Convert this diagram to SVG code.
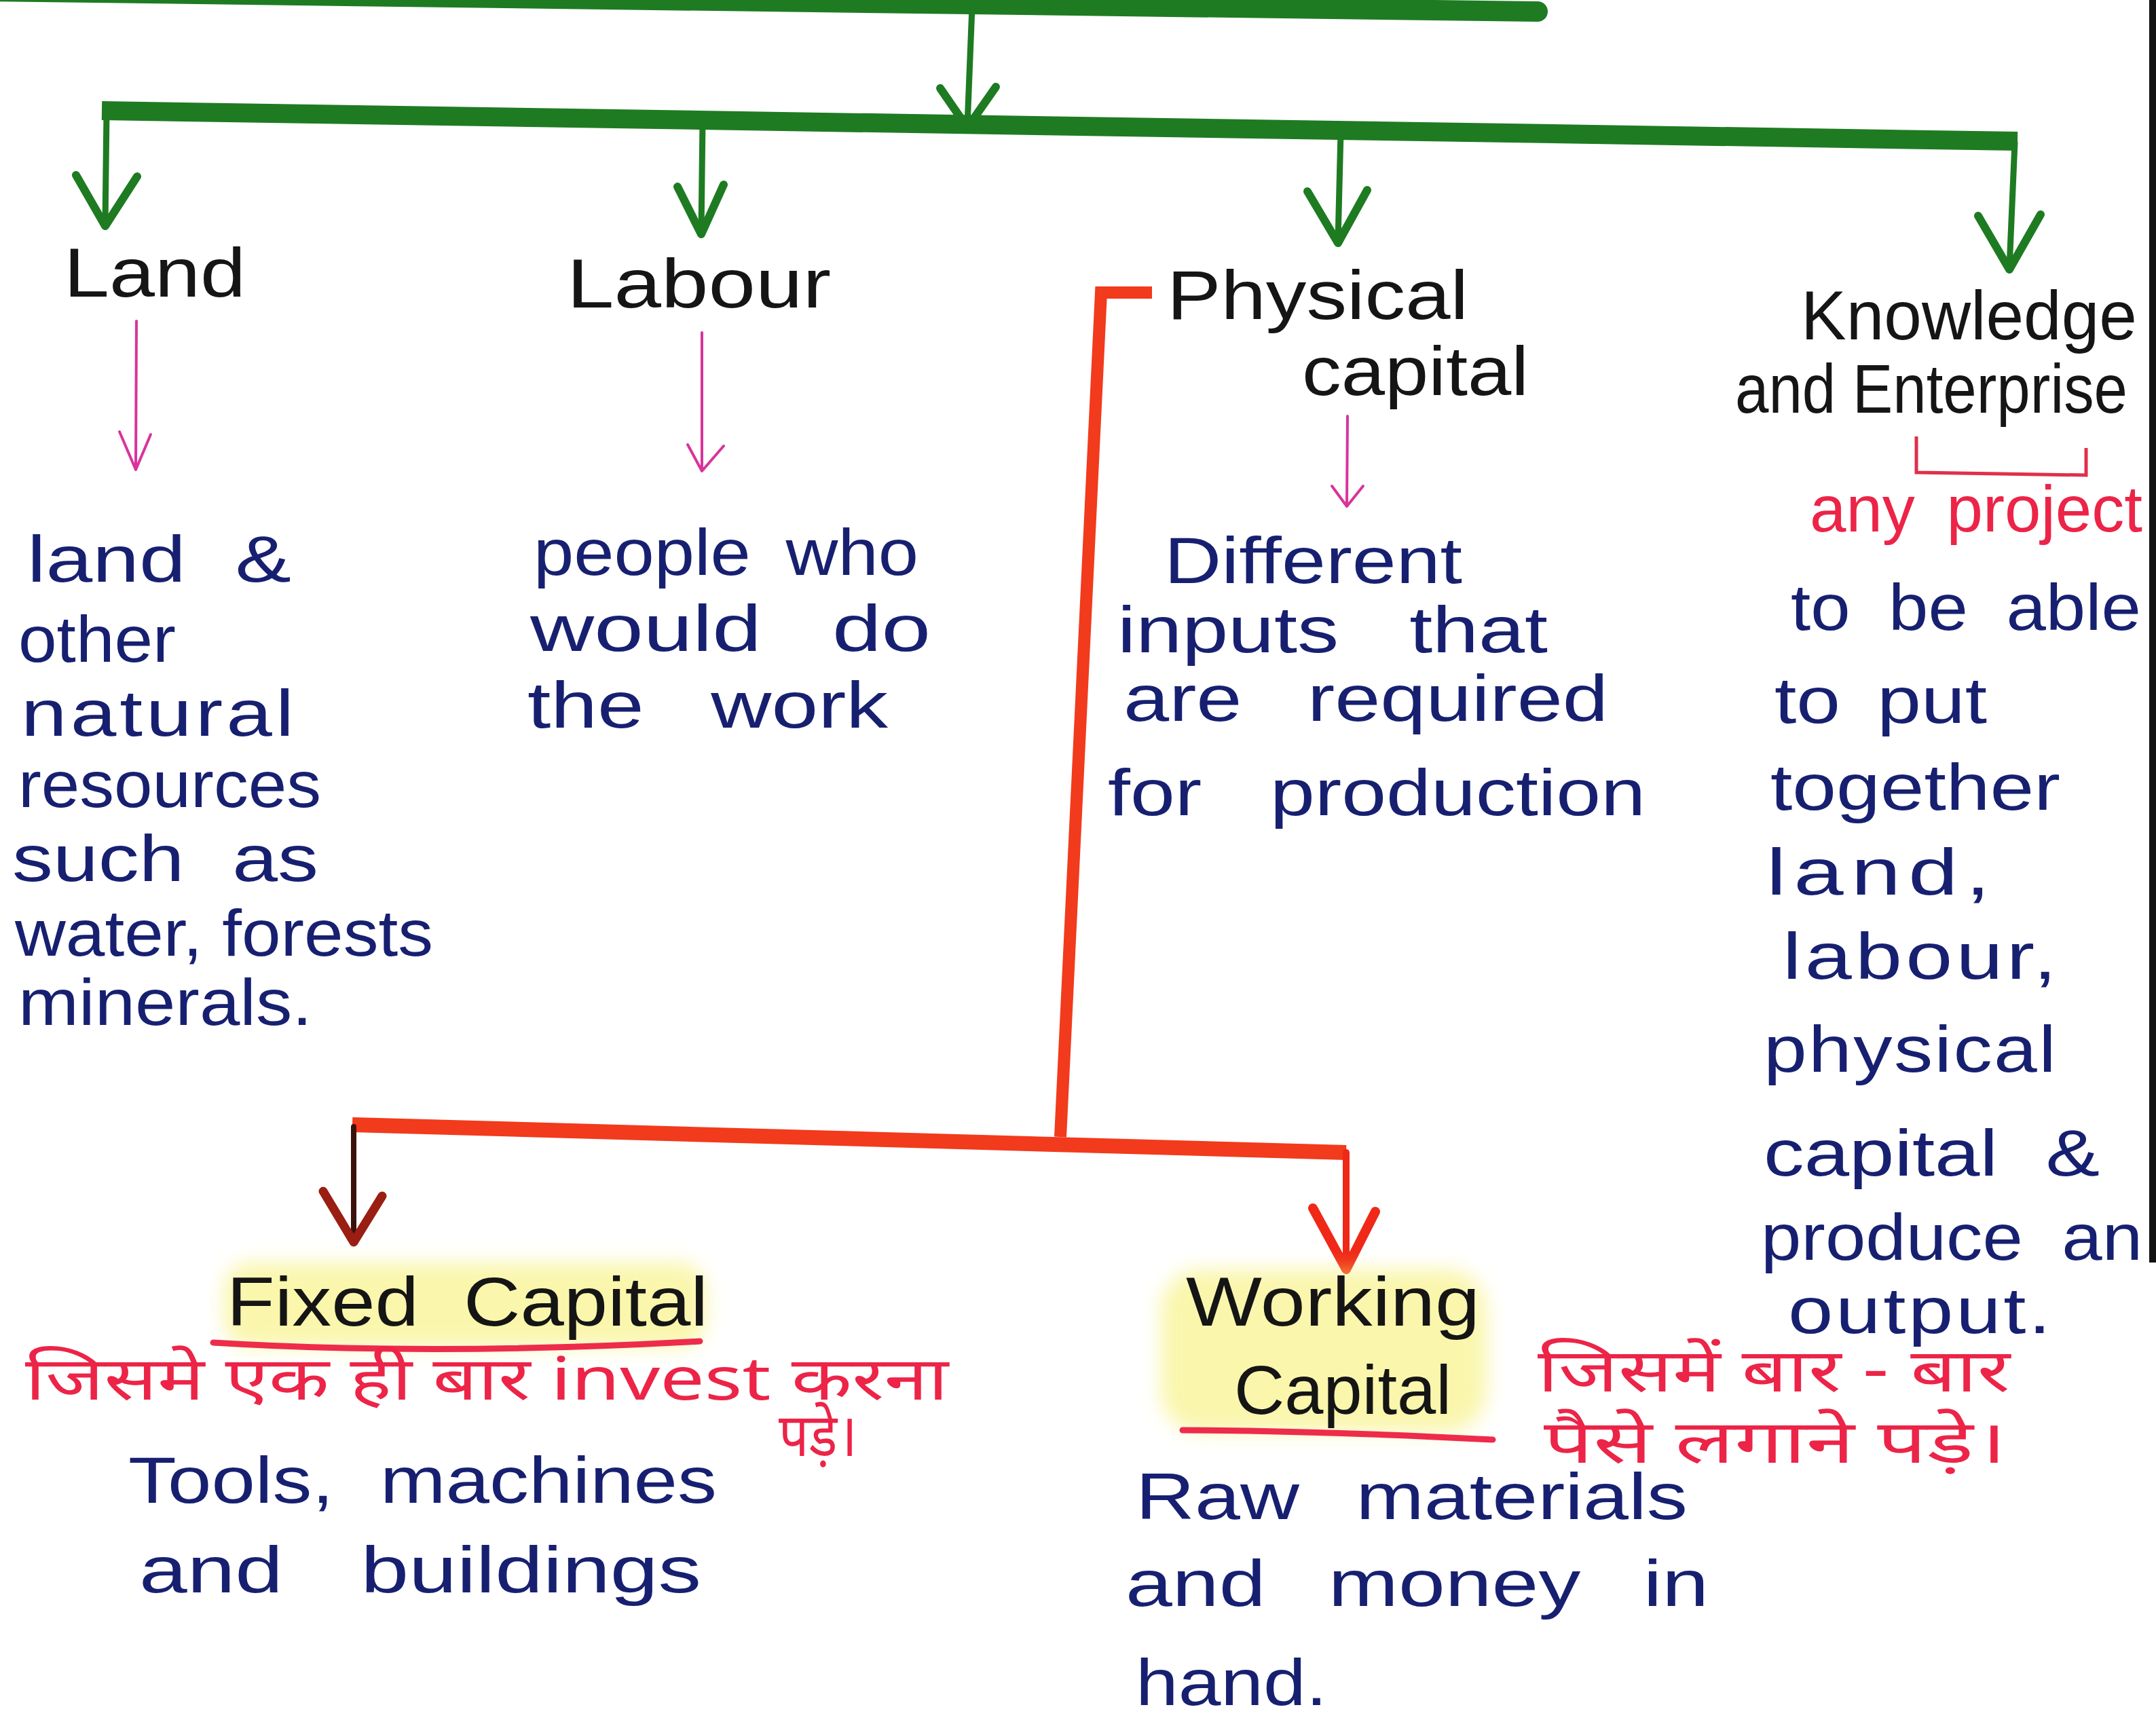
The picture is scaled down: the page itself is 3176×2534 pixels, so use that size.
<svg xmlns="http://www.w3.org/2000/svg" width="3176" height="2534" viewBox="0 0 3176 2534">
<defs>
<style>
text{font-family:"Liberation Sans","Noto Sans",sans-serif;}
.hd{fill:#151515;font-size:102px;}
.bl{fill:#172070;font-size:96px;}
.rd{fill:#ec2447;font-size:96px;}
.hi{fill:#ec2447;font-size:88px;font-family:"Noto Sans Devanagari","Lohit Devanagari","FreeSans","Noto Sans","Liberation Sans",sans-serif;}
.gs{fill:none;stroke:#1e7b22;stroke-width:9;stroke-linecap:round;}
.gv{fill:none;stroke:#1e7b22;stroke-width:12;stroke-linecap:round;stroke-linejoin:round;}
.pk{fill:none;stroke:#d8349c;stroke-width:4;stroke-linecap:round;stroke-linejoin:round;}
.rl{fill:none;stroke:#f23a1c;stroke-linejoin:miter;}
.ul{fill:none;stroke:#ee2b4a;stroke-width:9;stroke-linecap:round;}
.hl{fill:#f6ef6a;opacity:0.55;}
</style>
<filter id="blur" x="-20%" y="-50%" width="140%" height="200%"><feGaussianBlur stdDeviation="14"/></filter>
</defs>
<rect x="0" y="0" width="3176" height="2534" fill="#ffffff"/>
<rect x="3166" y="0" width="10" height="1860" fill="#111111"/>

<g id="connectors">
  <path d="M-20,-13 L2265,17" stroke="#1e7b22" stroke-width="30" stroke-linecap="round" fill="none"/>
  <path d="M150,163 L2972,208" stroke="#1e7b22" stroke-width="28" fill="none"/>
  <path class="gs" d="M1432,10 L1425,185"/>
  <path class="gv" d="M1385,130 L1425,188 L1467,128"/>
  <path class="gs" d="M157,165 L155,330"/>
  <path class="gv" d="M112,258 L155,333 L202,260"/>
  <path class="gs" d="M1035,178 L1033,343"/>
  <path class="gv" d="M998,275 L1033,345 L1066,272"/>
  <path class="gs" d="M1975,195 L1971,355"/>
  <path class="gv" d="M1926,282 L1971,358 L2014,280"/>
  <path class="gs" d="M2968,210 L2960,395"/>
  <path class="gv" d="M2914,318 L2960,397 L3006,316"/>
  <path class="pk" d="M201,473 L200,690"/>
  <path class="pk" d="M176,636 L200,692 L222,640"/>
  <path class="pk" d="M1034,490 L1034,692"/>
  <path class="pk" d="M1013,655 L1034,694 L1066,657"/>
  <path class="pk" d="M1985,613 L1984,744"/>
  <path class="pk" d="M1962,716 L1984,746 L2008,716"/>
  <path class="rl" stroke-width="18" d="M1697,431 L1622,431 L1562,1675"/>
  <path class="rl" stroke-width="22" d="M519,1657 L1983,1698"/>
  <path fill="none" stroke="#3b120c" stroke-width="8" stroke-linecap="round" d="M521,1660 L521,1828"/>
  <path fill="none" stroke="#9a1e12" stroke-width="13" stroke-linecap="round" stroke-linejoin="round" d="M476,1755 L521,1830 L563,1762"/>
  <path fill="none" stroke="#f02818" stroke-width="10" stroke-linecap="round" d="M1983,1698 L1983,1866"/>
  <path fill="none" stroke="#f02818" stroke-width="14" stroke-linecap="round" stroke-linejoin="round" d="M1934,1780 L1983,1870 L2026,1785"/>
  <path fill="none" stroke="#e0304a" stroke-width="5" d="M2823,643 L2823,696 L3073,700 L3073,660"/>
</g>

<g id="land">
  <text class="hd" x="94" y="437" textLength="268" lengthAdjust="spacingAndGlyphs">Land</text>
  <text class="bl" x="40" y="857" word-spacing="30" textLength="389" lengthAdjust="spacingAndGlyphs">land &amp;</text>
  <text class="bl" x="27" y="975" textLength="232" lengthAdjust="spacingAndGlyphs">other</text>
  <text class="bl" x="31" y="1084" letter-spacing="4" textLength="407" lengthAdjust="spacingAndGlyphs">natural</text>
  <text class="bl" x="27" y="1189" textLength="446" lengthAdjust="spacingAndGlyphs">resources</text>
  <text class="bl" x="18" y="1298" word-spacing="30" textLength="451" lengthAdjust="spacingAndGlyphs">such as</text>
  <text class="bl" x="22" y="1408" textLength="616" lengthAdjust="spacingAndGlyphs">water, forests</text>
  <text class="bl" x="27" y="1510" textLength="433" lengthAdjust="spacingAndGlyphs">minerals.</text>
</g>

<g id="labour">
  <text class="hd" x="835" y="453" textLength="389" lengthAdjust="spacingAndGlyphs">Labour</text>
  <text class="bl" x="786" y="847" word-spacing="20" textLength="567" lengthAdjust="spacingAndGlyphs">people who</text>
  <text class="bl" x="781" y="959" word-spacing="50" textLength="590" lengthAdjust="spacingAndGlyphs">would do</text>
  <text class="bl" x="777" y="1072" word-spacing="50" textLength="531" lengthAdjust="spacingAndGlyphs">the work</text>
</g>

<g id="physical-capital">
  <text class="hd" x="1719" y="470" textLength="444" lengthAdjust="spacingAndGlyphs">Physical</text>
  <text class="hd" x="1918" y="582" textLength="334" lengthAdjust="spacingAndGlyphs">capital</text>
  <text class="bl" x="1715" y="859" textLength="439" lengthAdjust="spacingAndGlyphs">Different</text>
  <text class="bl" x="1646" y="961" word-spacing="55" textLength="634" lengthAdjust="spacingAndGlyphs">inputs that</text>
  <text class="bl" x="1655" y="1062" word-spacing="50" textLength="714" lengthAdjust="spacingAndGlyphs">are required</text>
  <text class="bl" x="1632" y="1201" word-spacing="55" textLength="792" lengthAdjust="spacingAndGlyphs">for production</text>
</g>

<g id="knowledge-enterprise">
  <text class="hd" x="2653" y="500" font-size="86" textLength="495" lengthAdjust="spacingAndGlyphs">Knowledge</text>
  <text class="hd" x="2556" y="608" font-size="86" textLength="578" lengthAdjust="spacingAndGlyphs">and Enterprise</text>
  <text class="rd" x="2666" y="783" word-spacing="20" textLength="490" lengthAdjust="spacingAndGlyphs">any project</text>
  <text class="bl" x="2638" y="928" word-spacing="25" textLength="516" lengthAdjust="spacingAndGlyphs">to be able</text>
  <text class="bl" x="2614" y="1065" word-spacing="18" textLength="313" lengthAdjust="spacingAndGlyphs">to put</text>
  <text class="bl" x="2608" y="1193" textLength="427" lengthAdjust="spacingAndGlyphs">together</text>
  <text class="bl" x="2602" y="1318" letter-spacing="8" textLength="341" lengthAdjust="spacingAndGlyphs">land,</text>
  <text class="bl" x="2626" y="1442" letter-spacing="4" textLength="409" lengthAdjust="spacingAndGlyphs">labour,</text>
  <text class="bl" x="2598" y="1579" letter-spacing="2" textLength="433" lengthAdjust="spacingAndGlyphs">physical</text>
  <text class="bl" x="2598" y="1732" word-spacing="30" textLength="495" lengthAdjust="spacingAndGlyphs">capital &amp;</text>
  <text class="bl" x="2594" y="1856" word-spacing="25" textLength="562" lengthAdjust="spacingAndGlyphs">produce an</text>
  <text class="bl" x="2634" y="1964" letter-spacing="3" textLength="391" lengthAdjust="spacingAndGlyphs">output.</text>
</g>

<g id="fixed-capital">
  <rect class="hl" x="330" y="1860" width="710" height="125" rx="40" filter="url(#blur)"/>
  <text class="hd" x="334" y="1953" word-spacing="30" textLength="709" lengthAdjust="spacingAndGlyphs">Fixed Capital</text>
  <path class="ul" d="M314,1978 Q640,1998 1031,1976"/>
  <text class="hi" x="37" y="2062" textLength="1360" lengthAdjust="spacingAndGlyphs">जिसमे एक ही बार invest करना</text>
  <text class="hi" x="1147" y="2145" textLength="116" lengthAdjust="spacingAndGlyphs">पड़े।</text>
  <text class="bl" x="189" y="2214" font-size="100" word-spacing="30" textLength="867" lengthAdjust="spacingAndGlyphs">Tools, machines</text>
  <text class="bl" x="205" y="2346" font-size="100" word-spacing="60" textLength="828" lengthAdjust="spacingAndGlyphs">and buildings</text>
</g>

<g id="working-capital">
  <rect class="hl" x="1710" y="1870" width="480" height="240" rx="60" filter="url(#blur)"/>
  <text class="hd" x="1747" y="1953" textLength="433" lengthAdjust="spacingAndGlyphs">Working</text>
  <text class="hd" x="1818" y="2083" textLength="320" lengthAdjust="spacingAndGlyphs">Capital</text>
  <path class="ul" stroke-width="10" d="M1742,2107 Q1950,2108 2199,2121"/>
  <text class="hi" x="2265" y="2050" font-size="82" textLength="696" lengthAdjust="spacingAndGlyphs">जिसमें बार - बार</text>
  <text class="hi" x="2274" y="2155" font-size="84" textLength="682" lengthAdjust="spacingAndGlyphs">पैसे लगाने पड़े।</text>
  <text class="bl" x="1673" y="2238" font-size="100" word-spacing="40" textLength="813" lengthAdjust="spacingAndGlyphs">Raw materials</text>
  <text class="bl" x="1658" y="2366" font-size="100" word-spacing="45" textLength="859" lengthAdjust="spacingAndGlyphs">and money in</text>
  <text class="bl" x="1673" y="2512" font-size="100" textLength="282" lengthAdjust="spacingAndGlyphs">hand.</text>
</g>
</svg>
